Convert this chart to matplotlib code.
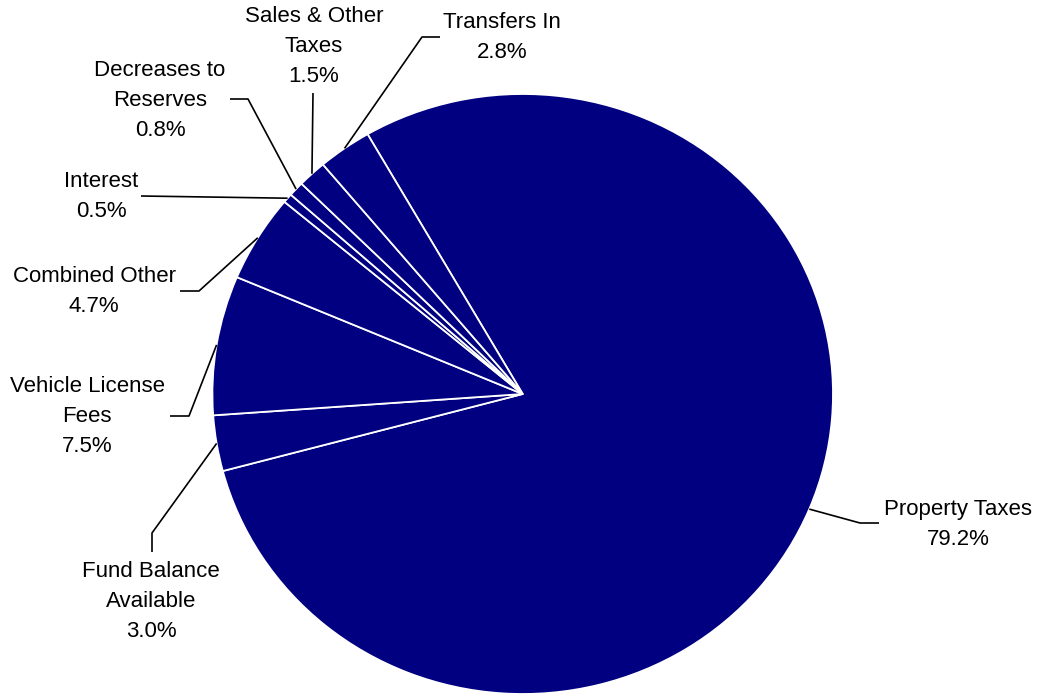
import numpy as np
import matplotlib
matplotlib.use("Agg")
from matplotlib import pyplot as plt

plt.rcParams['font.family'] = ['Liberation Sans', 'DejaVu Sans']

# data
categories = ["Property Taxes", "Fund Balance\nAvailable", "Vehicle License\nFees",
              "Combined Other", "Interest", "Decreases to\nReserves",
              "Sales & Other\nTaxes", "Transfers In"]
shares = [79.2, 3.0, 7.5, 4.7, 0.5, 0.8, 1.5, 2.8]

# label layout in reference pixels: (text centre x, last baseline y), elbow points
label_pos = [(958, 545), (151, 637), (87, 452), (94, 312),
             (101, 217), (160, 136), (314, 82), (502, 58)]
elbows = [[(860, 523), (879, 523)],
          [(152, 533), (152, 552)],
          [(189, 416), (170, 416)],
          [(199, 291), (180, 291)],
          [(141, 196)],
          [(248, 99), (230, 99)],
          [(313, 93)],
          [(422, 37), (440, 37)]]

W, H = 1046, 695
CX, CY, RX, RY = 522.7, 394.0, 310.3, 300.0


def px(x, y):
    # reference pixel -> axes data coords
    return (x - CX) / RX, (CY - y) / RY


fig = plt.figure(figsize=(W / 100, H / 100), dpi=100)
ax = fig.add_axes([(CX - RX) / W, (H - CY - RY) / H, 2 * RX / W, 2 * RY / H])

wedges, _ = ax.pie(shares, startangle=120, counterclock=False,
                   colors=['#000080'] * len(shares),
                   wedgeprops=dict(edgecolor='white', linewidth=1.3))
ax.set_aspect('auto')
ax.set_xlim(-1, 1)
ax.set_ylim(-1, 1)
ax.axis('off')

for w, name, val, (tx, ty), pts in zip(wedges, categories, shares, label_pos, elbows):
    mid = np.deg2rad((w.theta1 + w.theta2) / 2)
    xs = [np.cos(mid)] + [px(*p)[0] for p in pts]
    ys = [np.sin(mid)] + [px(*p)[1] for p in pts]
    ax.plot(xs, ys, color='black', lw=1.2, clip_on=False, solid_capstyle='butt')
    lx, ly = px(tx, ty)
    ax.text(lx, ly, f"{name}\n{val:.1f}%", ha='center', va='baseline',
            fontsize=16, linespacing=1.55, color='black', clip_on=False)

fig.savefig("out.png", dpi=100)
